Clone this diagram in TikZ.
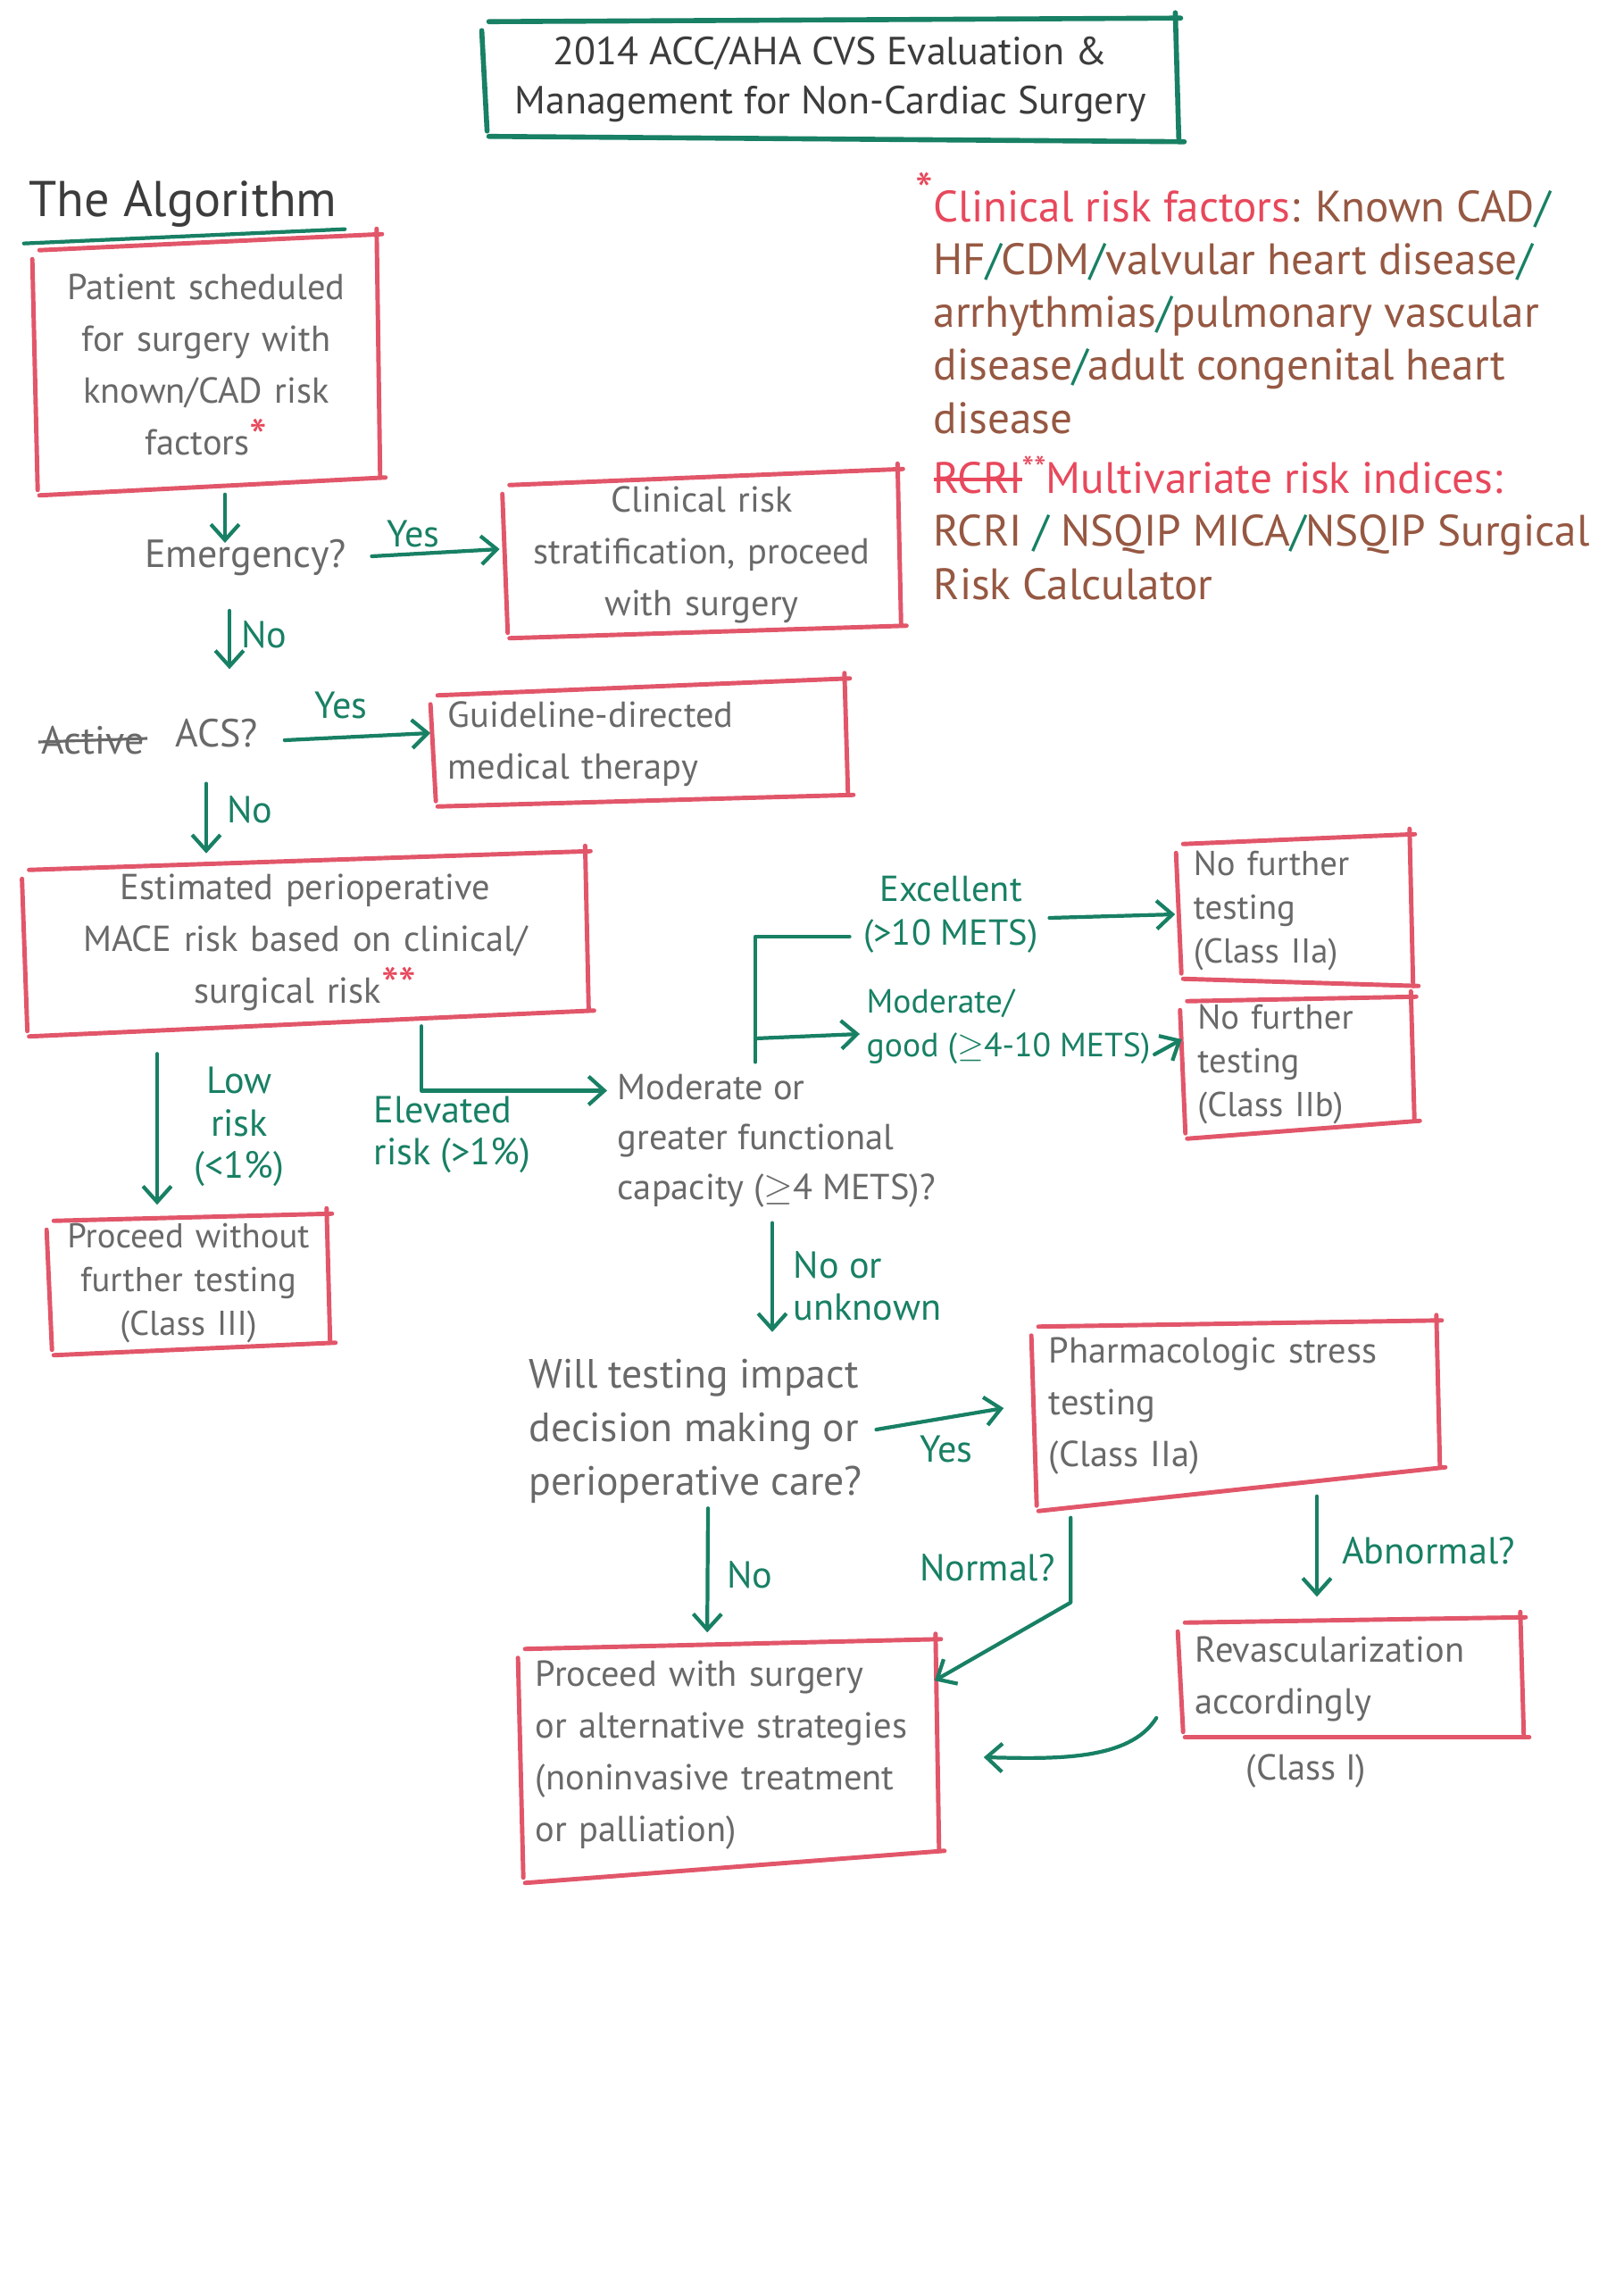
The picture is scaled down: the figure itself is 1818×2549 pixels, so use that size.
\documentclass[tikz,border=0pt]{standalone}
\usepackage{fontspec}
\setmainfont{PT Sans}
\usetikzlibrary{calc,arrows.meta}
\definecolor{boxred}{RGB}{226,86,106}
\definecolor{ink}{RGB}{24,128,100}
\definecolor{pencil}{RGB}{105,105,105}
\definecolor{brownink}{RGB}{150,88,66}
\definecolor{redink}{RGB}{232,72,92}
\definecolor{darkink}{RGB}{60,60,60}
\newcommand\boxfont{\fontsize{11.5}{16.5}\selectfont}
\newcommand\tightfont{\fontsize{11}{14}\selectfont}
\newcommand\titlefont{\fontsize{12.5}{15.5}\selectfont}
\newcommand\algofont{\fontsize{16}{18}\selectfont}
\newcommand\notefont{\fontsize{14}{16.8}\selectfont}
\newcommand\glabfont{\fontsize{12}{13.5}\selectfont}
\newcommand\qfont{\fontsize{12.5}{15}\selectfont}
\newcommand\modfont{\fontsize{11.5}{16}\selectfont}
\newcommand\willfont{\fontsize{13}{17}\selectfont}
\newcommand\excfont{\fontsize{11.5}{14}\selectfont}
\newcommand\modgfont{\fontsize{10.7}{14}\selectfont}
\newcommand\gslash{{\color{ink}/}}
\newcommand\bigast[1]{{\color{redink}\fontsize{16}{16}\selectfont #1}}
\newsavebox\strkbox
\newcommand\strk[1]{\sbox\strkbox{#1}\rlap{\rule[0.28em]{\wd\strkbox}{0.08em}}\usebox\strkbox}
% #1 node, #2 style, #3 top rise, #4 bottom rise (pixels)
\newcommand\sketchbox[4]{%
  \draw[#2] ($(#1.north west)+(4,{#3/2})$) -- ($(#1.north east)+(6,{-#3/2})$);
  \draw[#2] ($(#1.north east)+(0,{-#3/2-6})$) -- ($(#1.south east)+(4,{-#4/2})$);
  \draw[#2] ($(#1.south west)+(4,{#4/2})$) -- ($(#1.south east)+(10,{-#4/2})$);
  \draw[#2] ($(#1.north west)+(-4,{#3/2+10})$) -- ($(#1.south west)+(2,{#4/2-6})$);
}
\begin{document}
\begin{tikzpicture}[x=0.01cm,y=-0.01cm,
  txt/.style={inner sep=0pt, text=pencil, font=\boxfont},
  sbox/.style={txt, inner xsep=0.15cm, align=center},
  lbox/.style={txt, inner xsep=0.15cm, align=left},
  glab/.style={inner sep=0pt, text=ink, font=\glabfont, align=center},
  redline/.style={draw=boxred, line width=1.4pt, line cap=round},
  tline/.style={draw=ink, line width=1.6pt, line cap=round},
  gline/.style={draw=ink, line width=1.2pt, line cap=round, line join=round},
  garr/.style={gline, -{Straight Barb[length=5pt,width=9pt]}},
]
\useasboundingbox (0,0) rectangle (1818,2549);
\fill[white] (0,0) rectangle (1818,2549);

% title
\node[txt, align=center, minimum width=7.71cm, minimum height=1.32cm, text=darkink, font=\titlefont] (title) at (930,89)
  {2014 ACC/AHA CVS Evaluation \&\\Management for Non-Cardiac Surgery};
\sketchbox{title}{tline}{4}{-6}

\node[txt, text=darkink, font=\algofont] (algo) at (205,228) {The Algorithm};
\draw[gline] ($(algo.south west)+(-5,18)$) -- ($(algo.south east)+(8,2)$);

% boxes
\node[sbox, text width=3.5cm, minimum height=2.72cm] (b1) at (231,408)
  {Patient scheduled\\for surgery with\\known/CAD risk\\factors\bigast{*}};
\sketchbox{b1}{redline}{18}{20}

\node[txt, font=\qfont] (emerg) at (275,625) {Emergency?};

\node[sbox, text width=4.07cm, minimum height=1.72cm] (clin) at (786,621)
  {Clinical risk\\stratification, proceed\\with surgery};
\sketchbox{clin}{redline}{18}{14}

\node[txt, font=\qfont] (act) at (104,829) {Active};
\draw[pencil, line width=0.9pt] ($(act.west)+(-3,2)$) -- ($(act.east)+(3,-2)$);
\node[txt, font=\qfont] (acs) at (243,821) {ACS?};

\node[lbox, text width=4.28cm, minimum height=1.26cm] (gdmt) at (716,833)
  {Guideline-directed\\medical therapy};
\sketchbox{gdmt}{redline}{19}{13}

\node[sbox, text width=5.95cm, minimum height=1.81cm] (mace) at (342,1055)
  {Estimated perioperative\\MACE risk based on clinical/\\surgical risk\bigast{**}};
\sketchbox{mace}{redline}{21}{29}

\node[sbox, inner xsep=0.08cm, text width=2.92cm, minimum height=1.46cm, font=\tightfont] (pwt) at (211,1437)
  {Proceed without\\further testing\\(Class III)};
\sketchbox{pwt}{redline}{8}{14}

\node[txt, anchor=west, align=left, font=\modfont] (mod) at (691,1278)
  {Moderate or\\greater functional\\capacity ($\geq$4 METS)?};

\node[glab, font=\excfont] (exc) at (1065,1024) {Excellent\\(>10 METS)};
\node[glab, anchor=west, align=left, font=\modgfont] (modg) at (970,1150) {Moderate/\\good ($\geq$4-10 METS)};

\node[lbox, text width=2.26cm, minimum height=1.59cm, font=\tightfont] (nfta) at (1450,1020)
  {No further\\testing\\(Class IIa)};
\sketchbox{nfta}{redline}{11}{-8}

\node[lbox, text width=2.23cm, minimum height=1.45cm, font=\tightfont] (nftb) at (1453,1192)
  {No further\\testing\\(Class IIb)};
\sketchbox{nftb}{redline}{5}{20}

\node[txt, anchor=west, align=left, font=\willfont] (will) at (592,1603)
  {Will testing impact\\decision making or\\perioperative care?};

\node[lbox, text width=4.18cm, minimum height=1.84cm] (pst) at (1384,1575)
  {Pharmacologic stress\\testing\\(Class IIa)};
\sketchbox{pst}{redline}{7}{49}

\node[lbox, text width=3.48cm, minimum height=1.30cm] (rev) at (1513,1880)
  {Revascularization\\accordingly};
\sketchbox{rev}{redline}{6}{0}
\node[txt] (revc) at (1463,1984) {(Class I)};

\node[lbox, text width=4.32cm, minimum height=2.48cm] (pws) at (816,1966)
  {Proceed with surgery\\or alternative strategies\\(noninvasive treatment\\or palliation)};
\sketchbox{pws}{redline}{11}{36}

% notes
\node[inner sep=0pt, anchor=north west, align=left, font=\notefont, text=brownink] (notes) at (1045,193)
  {\llap{\raisebox{0.3em}{\bigast{*}}}\textcolor{redink}{Clinical risk factors}: Known CAD\gslash\\
   HF\gslash CDM\gslash valvular heart disease\gslash\\
   arrhythmias\gslash pulmonary vascular\\
   disease\gslash adult congenital heart\\
   disease\\[2.5pt]
   \textcolor{redink}{\strk{RCRI}\raisebox{0.3em}{\fontsize{11}{11}\selectfont **}Multivariate risk indices:}\\
   RCRI \gslash{} NSQIP MICA\gslash NSQIP Surgical\\
   Risk Calculator};

% labels
\node[glab] (yes1) at (463,598) {Yes};
\node[glab] (no1) at (296,711) {No};
\node[glab] (yes2) at (382,790) {Yes};
\node[glab] (no2) at (280,907) {No};
\node[glab] (low) at (268,1262) {Low\\risk\\(<1\%)};
\node[glab, anchor=west, align=left] (elev) at (418,1271) {Elevated\\risk (>1\%)};
\node[glab, anchor=west, align=left] (nou) at (888,1440) {No or\\unknown};
\node[glab] (yes3) at (1060,1623) {Yes};
\node[glab] (no3) at (840,1764) {No};
\node[glab] (normal) at (1106,1756) {Normal?};
\node[glab] (abn) at (1600,1737) {Abnormal?};

% connectors
\draw[garr] ($(b1.south)+(21,9)$) -- ($(emerg.north)+(-23,4)$);
\draw[garr] ($(emerg.east)+(28,-2)$) -- ($(clin.west)+(-7,-6)$);
\draw[garr] ($(emerg.south)+(-18,38)$) -- ($(acs.north)+(14,-55)$);
\draw[garr] ($(acs.east)+(29,8)$) -- ($(gdmt.west)+(-4,-12)$);
\draw[garr] ($(acs.south)+(-12,40)$) -- ($(mace.north)+(-111,-8)$);
\draw[garr] ($(mace.south)+(-166,34)$) -- ($(pwt.north)+(-35,-14)$);
\coordinate (a7s) at ($(mace.south)+(130,3)$);
\coordinate (a7e) at ($(mod.north west)+(-11,19)$);
\draw[garr] (a7s) |- (a7e);
\coordinate (brb) at ($(mod.north west)+(155,-13)$);
\draw[gline] ($(exc.west)+(-15,25)$) -| (brb);
\coordinate (brm) at ($(modg.west)+(-124,13)$);
\draw[garr] (brm) -- ($(modg.west)+(-7,8)$);
\draw[garr] ($(exc.east)+(12,4)$) -- ($(nfta.west)+(-5,4)$);
\draw[garr] ($(modg.south east)+(4,-12)$) -- ($(nftb.west)+(-2,-28)$);
\draw[garr] ($(mod.south west)+(174,16)$) -- ($(will.north west)+(273,-30)$);
\draw[garr] ($(will.east)+(15,-2)$) -- ($(pst.west)+(-35,2)$);
\draw[garr] ($(will.south west)+(201,5)$) -- ($(pws.north west)+(208,-13)$);
\draw[garr] ($(pst.south west)+(40,32)$) -- ++(0,95) -- ($(pws.north east)+(-1,41)$);
\draw[garr] ($(pst.south)+(91,8)$) -- ($(rev.north)+(-38,-26)$);
\draw[garr] ($(rev.west)+(-28,44)$) .. controls +(-30,48) and +(80,2) .. ($(pws.east)+(54,2)$);
\end{tikzpicture}
\end{document}
